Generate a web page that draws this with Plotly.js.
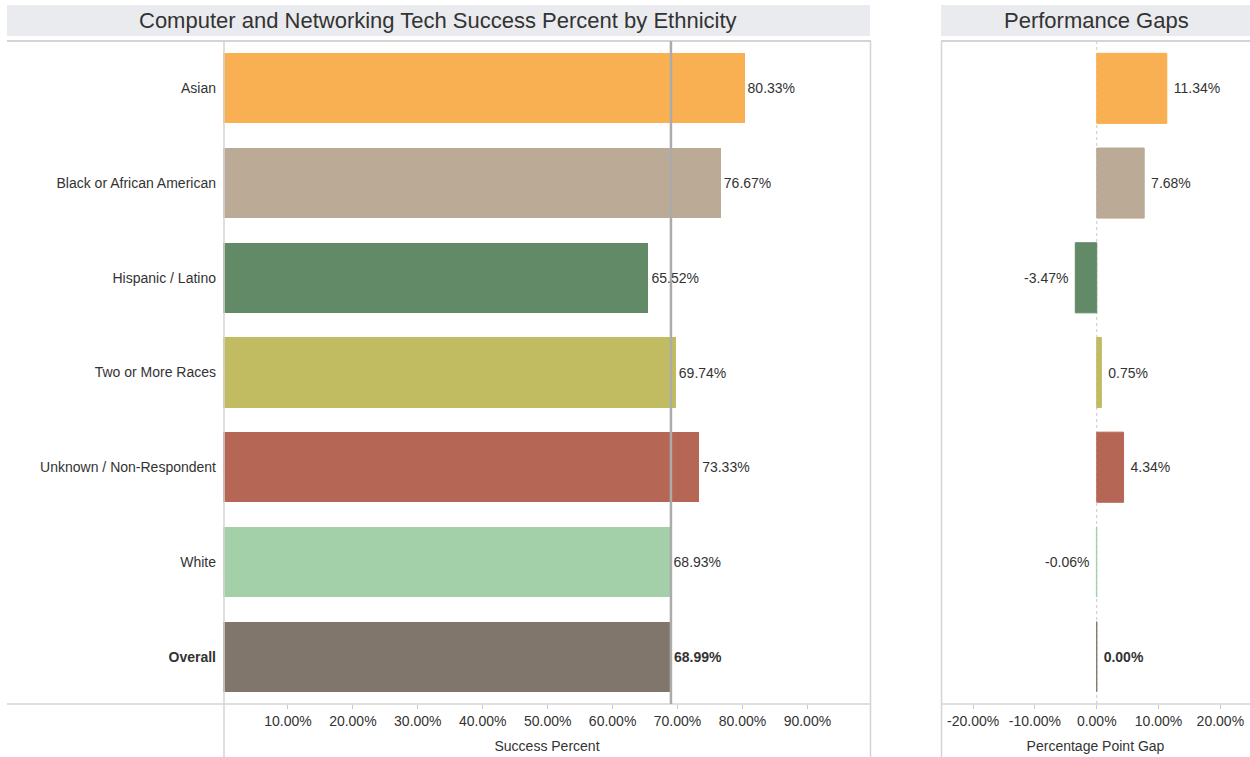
<!DOCTYPE html>
<html>
<head>
<meta charset="utf-8">
<script src="https://cdn.plot.ly/plotly-3.0.1.min.js"></script>
<style>html,body{margin:0;padding:0;background:#fff}#chart{width:1250px;height:757px}</style>
</head>
<body>
<div id="chart"></div>
<script>
const categories = ["Asian", "Black or African American", "Hispanic / Latino", "Two or More Races", "Unknown / Non-Respondent", "White", "Overall"];
const successPercent = [80.33, 76.67, 65.52, 69.74, 73.33, 68.93, 68.99];
const gapPoints = [11.34, 7.68, -3.47, 0.75, 4.34, -0.06, 0.00];
const barColors = ["#F9B052", "#BAAA96", "#628A66", "#C1BC62", "#B66655", "#A3CFA9", "#80766C"];
const leftTicks = [10, 20, 30, 40, 50, 60, 70, 80, 90];
const rightTicks = [-20, -10, 0, 10, 20];
const overallValue = successPercent[categories.indexOf("Overall")];

const fmt = (v, c) => (c === "Overall" ? "<b>" + v.toFixed(2) + "%</b>" : v.toFixed(2) + "%");
const pad = (s, v) => (v < 0 ? s + " " : " " + s);
const catLabels = categories.map(c => c === "Overall" ? "<b>" + c + "</b>" : c);

const W = 1250, H = 757;
const px = x => x / W, py = y => 1 - y / H;
const font = "Arial, 'Liberation Sans', Helvetica, sans-serif";
const txt = "#333333";
const fs = 14;

const traces = [
  {
    type: "bar", orientation: "h",
    x: successPercent, y: catLabels,
    marker: {color: barColors},
    width: 0.74,
    text: successPercent.map((v, i) => fmt(v, categories[i])),
    textposition: "outside", cliponaxis: false,
    textfont: {family: font, size: fs, color: txt},
    hoverinfo: "skip",
    xaxis: "x", yaxis: "y"
  },
  {
    type: "bar", orientation: "h",
    x: gapPoints, y: catLabels,
    marker: {color: barColors, line: {color: barColors, width: 1}},
    width: 0.74,
    text: gapPoints.map((v, i) => pad(fmt(v, categories[i]), v)),
    textposition: "outside", cliponaxis: false,
    textfont: {family: font, size: fs, color: txt},
    hoverinfo: "skip",
    xaxis: "x2", yaxis: "y"
  }
];

const yTop = 41, yAxisLine = 704;
const lineCol = "#D4D4D4";

const layout = {
  width: W, height: H,
  margin: {l: 0, r: 0, t: 0, b: 0},
  paper_bgcolor: "#ffffff", plot_bgcolor: "rgba(0,0,0,0)",
  showlegend: false,
  bargap: 0,
  font: {family: font, color: txt, size: fs},
  xaxis: {
    domain: [px(223), px(871)], range: [0, 99.8], anchor: "y",
    tickvals: leftTicks, ticktext: leftTicks.map(v => v.toFixed(2) + "%"),
    ticks: "outside", ticklen: 4, tickcolor: "#C8C8C8",
    showgrid: false, zeroline: false, showline: false,
    tickfont: {family: font, size: fs, color: txt},
    title: {text: "Success Percent", font: {family: font, size: fs, color: txt}, standoff: 13}
  },
  xaxis2: {
    domain: [px(941), 1], range: [-25.2, 24.8], anchor: "y",
    tickvals: rightTicks, ticktext: rightTicks.map(v => v.toFixed(2) + "%"),
    ticks: "outside", ticklen: 4, tickcolor: "#C8C8C8",
    showgrid: false, zeroline: false, showline: false,
    tickfont: {family: font, size: fs, color: txt},
    title: {text: "Percentage Point Gap", font: {family: font, size: fs, color: txt}, standoff: 13}
  },
  yaxis: {
    domain: [py(yAxisLine), py(yTop)], anchor: "x",
    autorange: "reversed", type: "category",
    showgrid: false, zeroline: false, showline: false, ticks: "",
    ticklabelstandoff: 6,
    tickfont: {family: font, size: fs, color: txt}
  },
  shapes: [
    {type: "rect", xref: "paper", yref: "paper", x0: px(7), x1: px(870), y0: py(36), y1: py(5), fillcolor: "#EAEBEF", line: {width: 0}, layer: "below"},
    {type: "rect", xref: "paper", yref: "paper", x0: px(941), x1: 1, y0: py(36), y1: py(5), fillcolor: "#EAEBEF", line: {width: 0}, layer: "below"},
    {type: "line", xref: "paper", yref: "paper", x0: px(7), x1: px(871), y0: py(yTop), y1: py(yTop), line: {color: lineCol, width: 2}},
    {type: "line", xref: "paper", yref: "paper", x0: px(7), x1: px(871), y0: py(yAxisLine), y1: py(yAxisLine), line: {color: lineCol, width: 1.5}},
    {type: "line", xref: "paper", yref: "paper", x0: px(224), x1: px(224), y0: py(yTop), y1: 0, line: {color: lineCol, width: 1.5}},
    {type: "line", xref: "paper", yref: "paper", x0: px(870.5), x1: px(870.5), y0: py(yTop), y1: 0, line: {color: lineCol, width: 1.5}},
    {type: "line", xref: "paper", yref: "paper", x0: px(941), x1: 1, y0: py(yTop), y1: py(yTop), line: {color: lineCol, width: 2}},
    {type: "line", xref: "paper", yref: "paper", x0: px(941), x1: 1, y0: py(yAxisLine), y1: py(yAxisLine), line: {color: lineCol, width: 1.5}},
    {type: "line", xref: "paper", yref: "paper", x0: px(941.5), x1: px(941.5), y0: py(yTop), y1: 0, line: {color: lineCol, width: 1.5}},
    {type: "line", xref: "x2", yref: "paper", x0: 0, x1: 0, y0: py(yAxisLine), y1: py(yTop), line: {color: "#C8C8C8", width: 1, dash: "dot"}, layer: "below"},
    {type: "line", xref: "x", yref: "paper", x0: overallValue, x1: overallValue, y0: py(yAxisLine), y1: py(yTop), line: {color: "#ABABAB", width: 2.5}, layer: "above"}
  ],
  annotations: [
    {text: "Computer and Networking Tech Success Percent by Ethnicity", xref: "paper", yref: "paper", x: px(438), y: py(20.5), xanchor: "center", yanchor: "middle", showarrow: false, font: {family: font, size: 22, color: txt}},
    {text: "Performance Gaps", xref: "paper", yref: "paper", x: px(1096), y: py(20.5), xanchor: "center", yanchor: "middle", showarrow: false, font: {family: font, size: 22, color: txt}}
  ]
};

Plotly.newPlot("chart", traces, layout, {displayModeBar: false, staticPlot: true});
</script>
</body>
</html>
